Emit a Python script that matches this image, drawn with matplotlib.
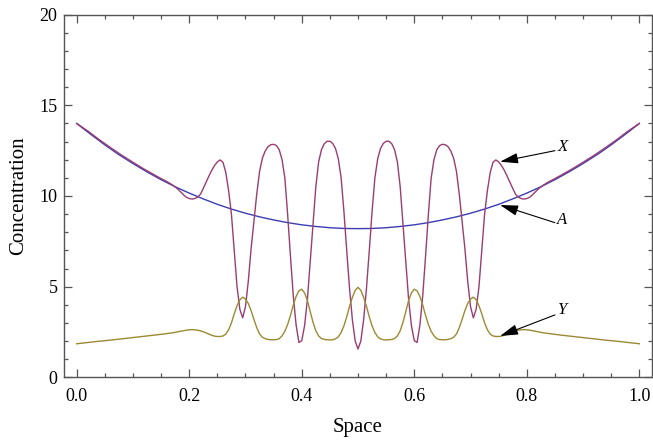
import numpy as np
import matplotlib
matplotlib.use("Agg")
import matplotlib.pyplot as plt
from matplotlib.ticker import MultipleLocator

plt.rcParams['font.family'] = ['Liberation Serif', 'DejaVu Serif']

# sample positions along the domain (coarse at the ends, fine in the pattern region)
space = np.round(np.concatenate([np.arange(0.0, 0.141, 0.02),
                                 np.arange(0.15, 0.8501, 0.005),
                                 np.arange(0.86, 1.0001, 0.02)]), 4)

x_conc = [14.00, 13.58, 13.11, 12.67, 12.25, 11.86, 11.48, 11.13,
          10.96, 10.88, 10.80, 10.71, 10.61, 10.50, 10.37, 10.22, 10.06, 9.93,
          9.86, 9.83, 9.86, 9.94, 10.10, 10.42, 10.76, 11.10, 11.42, 11.68,
          11.88, 11.99, 11.86, 11.30, 10.30, 9.00, 7.00, 5.00, 3.75, 3.28,
          3.90, 5.30, 7.10, 8.60, 10.10, 11.35, 12.08, 12.48, 12.72, 12.83,
          12.85, 12.78, 12.55, 12.00, 10.98, 8.95, 6.65, 4.48, 2.88, 1.92,
          2.02, 2.84, 4.27, 6.32, 8.45, 10.50, 11.88, 12.55, 12.88, 13.02,
          13.02, 12.90, 12.62, 12.05, 11.00, 9.14, 6.96, 4.89, 3.17, 2.00,
          1.56,
          2.00, 3.17, 4.89, 6.96, 9.14, 11.00, 12.05, 12.62, 12.90, 13.02,
          13.02, 12.88, 12.55, 11.88, 10.50, 8.45, 6.32, 4.27, 2.84, 2.02,
          1.92, 2.88, 4.48, 6.65, 8.95, 10.98, 12.00, 12.55, 12.78, 12.85,
          12.83, 12.72, 12.48, 12.08, 11.35, 10.10, 8.60, 7.10, 5.30, 3.90,
          3.28, 3.75, 5.00, 7.00, 9.00, 10.30, 11.30, 11.86, 11.99, 11.88,
          11.68, 11.42, 11.10, 10.76, 10.42, 10.10, 9.94, 9.86, 9.83, 9.86,
          9.93, 10.06, 10.22, 10.37, 10.50, 10.61, 10.71, 10.80, 10.88, 10.96,
          11.13, 11.48, 11.86, 12.25, 12.67, 13.11, 13.58, 14.00]

y_conc = [1.85, 1.92, 1.99, 2.05, 2.12, 2.19, 2.26, 2.33,
          2.37, 2.39, 2.41, 2.43, 2.45, 2.48, 2.51, 2.54, 2.57, 2.60,
          2.62, 2.63, 2.62, 2.60, 2.56, 2.51, 2.45, 2.38, 2.32, 2.27,
          2.25, 2.25, 2.28, 2.38, 2.62, 3.00, 3.50, 3.95, 4.28, 4.42,
          4.32, 4.07, 3.68, 3.19, 2.74, 2.39, 2.21, 2.13, 2.09, 2.07,
          2.07, 2.08, 2.13, 2.29, 2.54, 2.92, 3.42, 3.99, 4.46, 4.77,
          4.86, 4.65, 4.25, 3.63, 3.04, 2.57, 2.28, 2.14, 2.09, 2.07,
          2.06, 2.07, 2.12, 2.23, 2.47, 2.84, 3.34, 3.92, 4.41, 4.80,
          4.96,
          4.80, 4.41, 3.92, 3.34, 2.84, 2.47, 2.23, 2.12, 2.07, 2.06,
          2.07, 2.09, 2.14, 2.28, 2.57, 3.04, 3.63, 4.25, 4.65, 4.86,
          4.77, 4.46, 3.99, 3.42, 2.92, 2.54, 2.29, 2.13, 2.08, 2.07,
          2.07, 2.09, 2.13, 2.21, 2.39, 2.74, 3.19, 3.68, 4.07, 4.32,
          4.42, 4.28, 3.95, 3.50, 3.00, 2.62, 2.38, 2.28, 2.25, 2.25,
          2.27, 2.32, 2.38, 2.45, 2.51, 2.56, 2.60, 2.62, 2.63, 2.62,
          2.60, 2.57, 2.54, 2.51, 2.48, 2.45, 2.43, 2.41, 2.39, 2.37,
          2.33, 2.26, 2.19, 2.12, 2.05, 1.99, 1.92, 1.85]

space_a = np.round(np.arange(0.0, 1.0001, 0.025), 4)
a_conc = [14.00, 13.40, 12.82, 12.28, 11.79, 11.33, 10.90, 10.51, 10.16, 9.84,
          9.54, 9.28, 9.05, 8.85, 8.68, 8.53, 8.41, 8.32, 8.25, 8.21,
          8.20,
          8.21, 8.25, 8.32, 8.41, 8.53, 8.68, 8.85, 9.05, 9.28, 9.54,
          9.84, 10.16, 10.51, 10.90, 11.33, 11.79, 12.28, 12.82, 13.40, 14.00]

xticks = [0.0, 0.2, 0.4, 0.6, 0.8, 1.0]
yticks = [0, 5, 10, 15, 20]

fig = plt.figure(figsize=(6.53, 4.40), dpi=100)
ax = fig.add_axes([0.0985, 0.1425, 0.8995, 0.8241])

ax.plot(space_a, a_conc, color='#3c3cb4', lw=1.0)
ax.plot(space, x_conc, color='#993d72', lw=1.0)
ax.plot(space, y_conc, color='#9b8a32', lw=1.0)

ax.set_xlim(-0.022, 1.022)
ax.set_ylim(0, 20)
ax.set_xticks(xticks)
ax.set_xticklabels(['%.1f' % t for t in xticks])
ax.set_yticks(yticks)
ax.set_yticklabels([str(t) for t in yticks])
ax.xaxis.set_minor_locator(MultipleLocator(0.05))
ax.yaxis.set_minor_locator(MultipleLocator(1))

frame = '#555555'
for s in ax.spines.values():
    s.set_color(frame)
    s.set_linewidth(1.0)
ax.tick_params(which='both', direction='in', top=True, right=True,
               color=frame, labelcolor='black', labelsize=13)
ax.tick_params(which='major', length=6, width=0.9)
ax.tick_params(which='minor', length=3, width=0.9)
ax.tick_params(axis='x', pad=8)
ax.tick_params(axis='y', pad=5)

ax.set_xlabel('Space', fontsize=15)
ax.set_ylabel('Concentration', fontsize=15)
ax.xaxis.set_label_coords(0.5, -0.112)
ax.yaxis.set_label_coords(-0.062, 0.5)

# arrow labels
for lab, tip, tail, pos in [('X', (0.7526, 11.89), (0.850, 12.50), (0.864, 12.72)),
                            ('A', (0.7526, 9.50), (0.850, 8.53), (0.862, 8.68)),
                            ('Y', (0.7526, 2.28), (0.850, 3.44), (0.862, 3.71))]:
    ax.annotate('', xy=tip, xytext=tail,
                arrowprops=dict(arrowstyle='-|>,head_length=1.1,head_width=0.32',
                                mutation_scale=10, color='black', lw=0.8,
                                shrinkA=0, shrinkB=0))
    ax.text(pos[0], pos[1], lab, fontsize=12, style='italic',
            ha='center', va='center')

fig.savefig('out.png', dpi=100)
